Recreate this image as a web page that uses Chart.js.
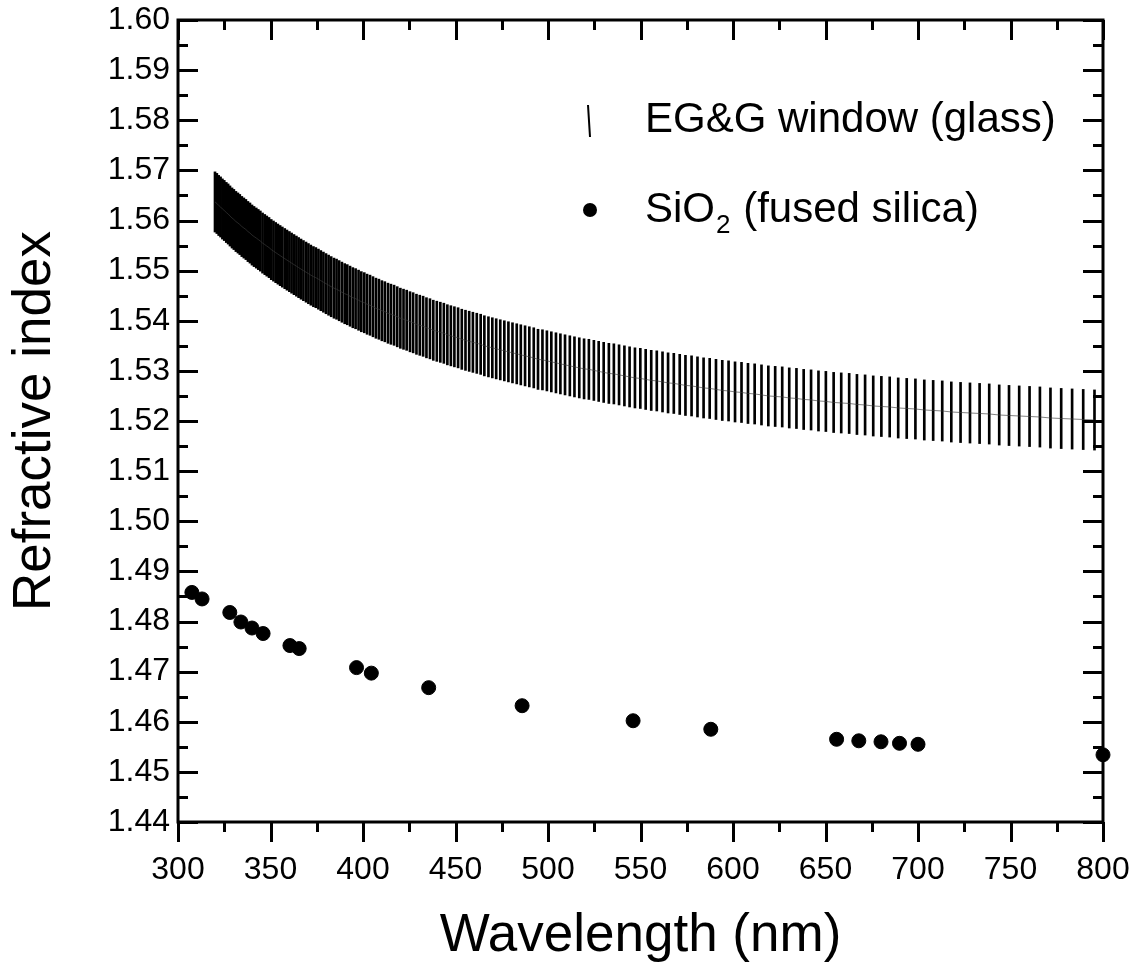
<!DOCTYPE html>
<html>
<head>
<meta charset="utf-8">
<title>Refractive index</title>
<script src="https://cdn.jsdelivr.net/npm/chart.js@4.4.1/dist/chart.umd.min.js"></script>
<style>
  html, body { margin: 0; padding: 0; background: #fff; }
  #wrap { width: 1143px; height: 974px; position: relative; }
</style>
</head>
<body>
<div id="wrap"><canvas id="nChart"></canvas></div>
<script>
// ---- data ----
// EG&G window (glass): bar centres, drawn as vertical error bars
const glassWl = [
  320.0, 321.0, 322.0, 323.0, 324.0, 325.0, 326.1, 327.1, 328.1, 329.2, 330.2,
  331.3, 332.4, 333.4, 334.5, 335.6, 336.7, 337.8, 338.9, 340.0,
  341.1, 342.3, 343.4, 344.5, 345.7, 346.9, 348.0, 349.2,
  350.4, 351.6, 352.8, 354.0, 355.2, 356.4, 357.7, 358.9,
  360.2, 361.4, 362.7, 364.0, 365.2, 366.5, 367.8, 369.2,
  370.5, 371.8, 373.2, 374.5, 375.9, 377.2, 378.6,
  380.0, 381.4, 382.8, 384.3, 385.7, 387.1, 388.6,
  390.1, 391.5, 393.0, 394.5, 396.0, 397.6, 399.1,
  400.7, 402.2, 403.8, 405.4, 407.0, 408.6,
  410.2, 411.8, 413.5, 415.1, 416.8, 418.5,
  420.2, 421.9, 423.6, 425.4, 427.1, 428.9,
  430.7, 432.5, 434.3, 436.2, 438.0, 439.9,
  441.8, 443.7, 445.6, 447.5, 449.4,
  451.4, 453.4, 455.4, 457.4, 459.4,
  461.5, 463.6, 465.6, 467.8, 469.9,
  472.0, 474.2, 476.4, 478.6,
  480.8, 483.1, 485.3, 487.6, 489.9,
  492.3, 494.6, 497.0, 499.4,
  501.8, 504.3, 506.7, 509.2, 511.8, 514.3, 516.9, 519.5,
  522.1, 524.8, 527.4, 530.1, 532.9, 535.6, 538.4,
  541.3, 544.1, 547.0, 549.9, 552.8, 555.8, 558.8,
  561.9, 564.9, 568.0, 571.2, 574.3, 577.6,
  580.8, 584.1, 587.4, 590.8, 594.2, 597.6,
  601.1, 604.6, 608.1, 611.7, 615.4, 619.1,
  622.8, 626.6, 630.4, 634.3, 638.2,
  642.2, 646.2, 650.2, 654.4, 658.5,
  662.8, 667.0, 671.4, 675.8,
  680.2, 684.7, 689.3, 693.9, 698.6,
  703.4, 708.2, 713.1, 718.0,
  723.0, 728.1, 733.3, 738.5,
  743.9, 749.2, 754.7,
  760.3, 765.9, 771.6, 777.4,
  783.3, 789.3, 795.4
];
const glassN = [
  1.5637, 1.5634, 1.5630, 1.5627, 1.5623, 1.5620, 1.5616, 1.5613, 1.5609, 1.5605, 1.5602,
  1.5598, 1.5595, 1.5592, 1.5588, 1.5585, 1.5582, 1.5578, 1.5575, 1.5571,
  1.5568, 1.5565, 1.5562, 1.5559, 1.5555, 1.5552, 1.5549, 1.5546,
  1.5542, 1.5539, 1.5536, 1.5533, 1.5530, 1.5527, 1.5524, 1.5521,
  1.5518, 1.5515, 1.5512, 1.5509, 1.5506, 1.5503, 1.5500, 1.5497,
  1.5494, 1.5491, 1.5488, 1.5486, 1.5483, 1.5480, 1.5477,
  1.5474, 1.5471, 1.5468, 1.5465, 1.5463, 1.5460, 1.5457,
  1.5454, 1.5452, 1.5449, 1.5446, 1.5444, 1.5441, 1.5438,
  1.5436, 1.5433, 1.5431, 1.5428, 1.5425, 1.5423,
  1.5420, 1.5418, 1.5415, 1.5413, 1.5411, 1.5408,
  1.5405, 1.5403, 1.5401, 1.5398, 1.5396, 1.5393,
  1.5391, 1.5389, 1.5386, 1.5384, 1.5381, 1.5379,
  1.5377, 1.5375, 1.5372, 1.5370, 1.5368,
  1.5366, 1.5363, 1.5361, 1.5359, 1.5357,
  1.5355, 1.5353, 1.5350, 1.5348, 1.5346,
  1.5344, 1.5342, 1.5340, 1.5338,
  1.5336, 1.5334, 1.5332, 1.5330, 1.5328,
  1.5326, 1.5323, 1.5322, 1.5320,
  1.5318, 1.5316, 1.5314, 1.5312, 1.5310, 1.5308, 1.5306, 1.5304,
  1.5303, 1.5301, 1.5299, 1.5297, 1.5295, 1.5294, 1.5292,
  1.5290, 1.5288, 1.5286, 1.5285, 1.5283, 1.5281, 1.5280,
  1.5278, 1.5276, 1.5275, 1.5273, 1.5271, 1.5270,
  1.5268, 1.5266, 1.5265, 1.5263, 1.5261, 1.5260,
  1.5258, 1.5257, 1.5255, 1.5254, 1.5252, 1.5250,
  1.5249, 1.5248, 1.5246, 1.5245, 1.5243,
  1.5242, 1.5240, 1.5239, 1.5237, 1.5236,
  1.5235, 1.5233, 1.5232, 1.5230,
  1.5229, 1.5228, 1.5226, 1.5225, 1.5224,
  1.5222, 1.5221, 1.5220, 1.5218,
  1.5217, 1.5216, 1.5215, 1.5214,
  1.5212, 1.5211, 1.5210,
  1.5209, 1.5208, 1.5206, 1.5205,
  1.5204, 1.5203, 1.5202
];
const glassErr = 0.006;   // half height of each bar

// SiO2 (fused silica) points
const silicaWl = [307.5, 313, 328, 334, 340, 346, 360.5, 365.5, 396.5, 404.5,
                  435.5, 486, 546, 588, 656, 668, 680, 690, 700, 800];
const silicaN  = [1.4858, 1.4845, 1.4818, 1.4799, 1.4787, 1.4776, 1.4752, 1.4746, 1.4708, 1.4697,
                  1.4668, 1.4632, 1.4602, 1.4585, 1.4565, 1.4562, 1.4560, 1.4557, 1.4555, 1.4534];

// axis ranges / tick labels
const xMin = 300, xMax = 800, xStep = 50;
const yMin = 1.44, yMax = 1.60, yStep = 0.01;
const xTitle = 'Wavelength (nm)';
const yTitle = 'Refractive index';
const legendGlass = 'EG&G window (glass)';

const FONT = "'Liberation Sans', Arial, Helvetica, sans-serif";
Chart.defaults.font.family = FONT;
Chart.defaults.color = '#000';

// frame + inward/outward ticks, like the original plot
const frameTicks = {
    id: 'frameTicks',
    afterDraw(chart) {
        const { ctx, chartArea: a, scales: { x, y } } = chart;
        ctx.save();
        ctx.strokeStyle = '#000';
        ctx.lineWidth = 3;
        ctx.lineCap = 'butt';
        ctx.strokeRect(a.left, a.top, a.right - a.left, a.bottom - a.top);

        ctx.beginPath();
        // y ticks every 0.005, left and right, pointing in
        for (let i = 0; i <= Math.round((yMax - yMin) / 0.005); i++) {
            const py = Math.round(y.getPixelForValue(yMin + i * 0.005)) + 0.5;
            const len = i % 2 === 0 ? 20 : 10;
            ctx.moveTo(a.left, py); ctx.lineTo(a.left + len, py);
            ctx.moveTo(a.right, py); ctx.lineTo(a.right - len, py);
        }
        // x ticks every 25, bottom out, top in
        for (let i = 0; i <= (xMax - xMin) / 25; i++) {
            const px = Math.round(x.getPixelForValue(xMin + i * 25)) + 0.5;
            const len = i % 2 === 0 ? 20 : 10;
            ctx.moveTo(px, a.bottom); ctx.lineTo(px, a.bottom + len);
            ctx.moveTo(px, a.top); ctx.lineTo(px, a.top + len);
        }
        ctx.stroke();
        ctx.restore();
    }
};

// legend in the upper right of the plot
const insideLegend = {
    id: 'insideLegend',
    afterDraw(chart) {
        const ctx = chart.ctx;
        ctx.save();
        ctx.strokeStyle = '#000';
        ctx.fillStyle = '#000';
        ctx.lineWidth = 2;
        ctx.beginPath();
        ctx.moveTo(588, 105); ctx.lineTo(590, 137);
        ctx.stroke();
        ctx.beginPath();
        ctx.arc(590, 210, 7, 0, Math.PI * 2);
        ctx.fill();

        ctx.textBaseline = 'middle';
        ctx.textAlign = 'left';
        ctx.font = '42px ' + FONT;
        ctx.fillText(legendGlass, 645, 120);
        ctx.fillText('SiO', 645, 210);
        let w = ctx.measureText('SiO').width;
        ctx.font = '26px ' + FONT;
        ctx.fillText('2', 645 + w + 1, 226);
        const w2 = ctx.measureText('2').width;
        ctx.font = '42px ' + FONT;
        ctx.fillText(' (fused silica)', 645 + w + w2 + 2, 210);
        ctx.restore();
    }
};

const ctx = document.getElementById('nChart');
new Chart(ctx, {
    type: 'scatter',
    data: {
        datasets: [
            {
                type: 'scatter',
                label: 'SiO2 (fused silica)',
                data: silicaWl.map((w, i) => ({ x: w, y: silicaN[i] })),
                backgroundColor: '#000',
                borderColor: '#000',
                pointRadius: 7,
                pointHoverRadius: 7,
                clip: false,
                order: 0
            },
            {
                type: 'line',
                label: 'glass centre',
                data: glassWl.map((w, i) => ({ x: w, y: glassN[i] })),
                borderColor: 'rgba(60,60,60,0.8)',
                borderWidth: 0.8,
                pointRadius: 0,
                fill: false,
                order: 1
            },
            {
                type: 'bar',
                label: legendGlass,
                data: glassWl.map((w, i) => ({ x: w, y: [glassN[i] - glassErr, glassN[i] + glassErr] })),
                backgroundColor: '#000',
                borderWidth: 0,
                barThickness: 2,
                grouped: false,
                order: 2
            }
        ]
    },
    options: {
        responsive: true,
        maintainAspectRatio: false,
        animation: false,
        layout: { padding: { top: 20, right: 40, left: 0, bottom: 0 } },
        plugins: {
            legend: { display: false },
            tooltip: { enabled: false }
        },
        scales: {
            x: {
                type: 'linear',
                min: xMin, max: xMax,
                offset: false,
                grid: { display: false, drawTicks: false },
                border: { display: false },
                ticks: {
                    stepSize: xStep,
                    padding: 29,
                    font: { size: 32 },
                    color: '#000',
                    maxRotation: 0
                },
                title: {
                    display: true,
                    text: xTitle,
                    font: { size: 53 },
                    color: '#000',
                    padding: { top: 0, bottom: 6 }
                },
                afterFit(scale) {
                    scale.height = 152;
                    scale.paddingLeft = 0;
                    scale.paddingRight = 0;
                }
            },
            y: {
                type: 'linear',
                min: yMin, max: yMax,
                grid: { display: false, drawTicks: false },
                border: { display: false },
                ticks: {
                    stepSize: yStep,
                    padding: 8,
                    font: { size: 32 },
                    color: '#000',
                    callback: v => v.toFixed(2)
                },
                title: {
                    display: true,
                    text: yTitle,
                    font: { size: 53 },
                    color: '#000',
                    padding: { top: 4, bottom: 0 }
                },
                afterFit(scale) {
                    scale.width = 178;
                    scale.paddingTop = 0;
                    scale.paddingBottom = 0;
                }
            }
        }
    },
    plugins: [frameTicks, insideLegend]
});
</script>
</body>
</html>
